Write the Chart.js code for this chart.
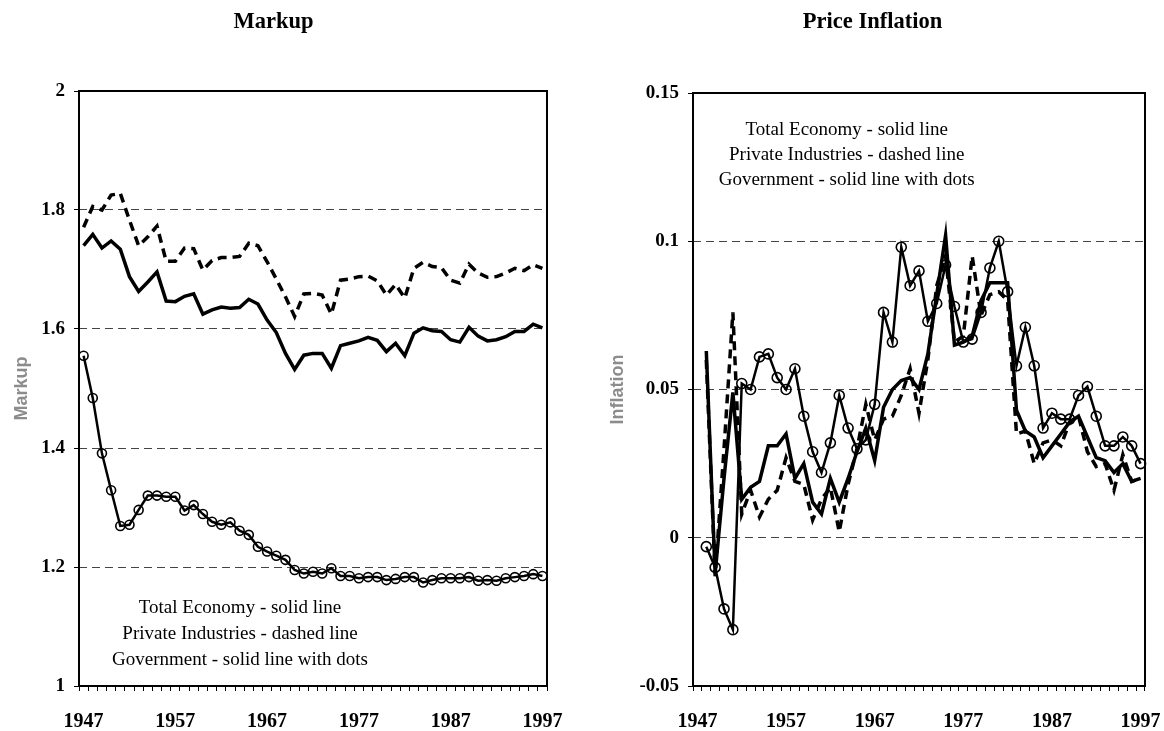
<!DOCTYPE html>
<html><head><meta charset="utf-8">
<script src="https://cdn.jsdelivr.net/npm/chart.js@4.4.1/dist/chart.umd.min.js"></script>
<style>
html,body{margin:0;padding:0;background:#fff;overflow:hidden;}
#c1{position:absolute;left:0;top:0;}
#c2{position:absolute;left:600px;top:0;}
</style>
</head><body>
<canvas id="c1" width="575" height="731"></canvas>
<canvas id="c2" width="564" height="731"></canvas>
<script>
const years = ['1947','1948','1949','1950','1951','1952','1953','1954','1955','1956',
  '1957','1958','1959','1960','1961','1962','1963','1964','1965','1966',
  '1967','1968','1969','1970','1971','1972','1973','1974','1975','1976',
  '1977','1978','1979','1980','1981','1982','1983','1984','1985','1986',
  '1987','1988','1989','1990','1991','1992','1993','1994','1995','1996','1997'];
const yearTickLabels = ['1947','1957','1967','1977','1987','1997'];

const markupTotal = [1.740,1.759,1.736,1.748,1.734,1.688,1.663,1.679,1.696,1.647,
  1.646,1.655,1.659,1.625,1.632,1.637,1.635,1.636,1.650,1.642,
  1.615,1.594,1.559,1.532,1.556,1.559,1.559,1.534,1.572,1.576,
  1.580,1.586,1.581,1.562,1.576,1.555,1.593,1.602,1.597,1.596,
  1.582,1.578,1.603,1.588,1.580,1.582,1.587,1.596,1.596,1.608,1.602];
const markupPrivate = [1.771,1.806,1.800,1.825,1.828,1.783,1.740,1.755,1.773,1.714,
  1.714,1.736,1.735,1.699,1.715,1.720,1.720,1.722,1.744,1.740,
  1.713,1.684,1.654,1.621,1.659,1.660,1.657,1.625,1.682,1.684,
  1.688,1.689,1.681,1.657,1.675,1.652,1.702,1.712,1.705,1.703,
  1.682,1.677,1.709,1.694,1.687,1.688,1.694,1.702,1.698,1.708,1.702];
const markupGov = [1.555,1.484,1.391,1.329,1.269,1.271,1.296,1.320,1.320,1.318,
  1.318,1.295,1.304,1.289,1.276,1.271,1.275,1.261,1.254,1.234,
  1.226,1.219,1.212,1.195,1.189,1.192,1.189,1.198,1.185,1.185,
  1.181,1.183,1.183,1.178,1.180,1.183,1.183,1.174,1.178,1.181,
  1.181,1.181,1.183,1.177,1.178,1.177,1.181,1.183,1.185,1.188,1.185];

const inflTotal = [null,0.063,-0.012,0.020,0.049,0.013,0.017,0.019,0.031,0.031,
  0.035,0.020,0.025,0.012,0.008,0.020,0.012,0.020,0.029,0.037,
  0.026,0.044,0.050,0.053,0.054,0.050,0.062,0.082,0.102,0.065,
  0.066,0.068,0.080,0.086,0.086,0.086,0.043,0.036,0.034,0.027,
  0.031,0.035,0.039,0.041,0.034,0.027,0.026,0.022,0.025,0.019,0.020];
const inflPrivate = [null,0.060,-0.013,0.030,0.076,0.008,0.016,0.007,0.013,0.016,
  0.027,0.019,0.018,0.006,0.013,0.017,0.002,0.018,0.030,0.045,
  0.033,0.040,0.041,0.048,0.057,0.042,0.060,0.085,0.095,0.066,
  0.068,0.095,0.075,0.082,0.083,0.080,0.035,0.036,0.025,0.032,
  0.033,0.031,0.039,0.041,0.029,0.024,0.025,0.016,0.028,0.019,0.020];
const inflGov = [null,-0.003,-0.010,-0.024,-0.031,0.052,0.050,0.061,0.062,0.054,
  0.050,0.057,0.041,0.029,0.022,0.032,0.048,0.037,0.030,0.033,
  0.045,0.076,0.066,0.098,0.085,0.090,0.073,0.079,0.092,0.078,
  0.066,0.067,0.076,0.091,0.100,0.083,0.058,0.071,0.058,0.037,
  0.042,0.040,0.040,0.048,0.051,0.041,0.031,0.031,0.034,0.031,0.025];

const markupTicks = [1, 1.2, 1.4, 1.6, 1.8, 2];
const markupTickLabels = ['1','1.2','1.4','1.6','1.8','2'];
const inflTicks = [-0.05, 0, 0.05, 0.1, 0.15];
const inflTickLabels = ['-0.05','0','0.05','0.1','0.15'];
const noteLines = ['Total Economy - solid line','Private Industries - dashed line','Government - solid line with dots'];

const boxPlugin = {
  id: 'box',
  afterDraw(chart) {
    const a = chart.chartArea, ctx = chart.ctx;
    ctx.save();
    ctx.strokeStyle = '#000';
    ctx.lineWidth = 2;
    ctx.setLineDash([]);
    ctx.strokeRect(a.left, a.top, a.right - a.left, a.bottom - a.top);
    ctx.restore();
  }
};
const notesPlugin = {
  id: 'notes',
  afterDatasetsDraw(chart, args, opts) {
    const a = chart.chartArea, ctx = chart.ctx;
    ctx.save();
    ctx.font = '19px "Liberation Serif"';
    ctx.fillStyle = '#000';
    ctx.textAlign = 'center';
    ctx.textBaseline = 'middle';
    const x = a.left + opts.fx * (a.right - a.left);
    opts.lines.forEach((t, i) => {
      const y = opts.fromBottom ? a.bottom - opts.offsets[i] : a.top + opts.offsets[i];
      ctx.fillText(t, x, y);
    });
    ctx.restore();
  }
};

function build(canvasId, cfg) {
  return new Chart(document.getElementById(canvasId), {
    type: 'line',
    data: {
      labels: years,
      datasets: [
        { label: 'Total Economy', data: cfg.total, borderColor: '#000', borderWidth: 3.5,
          pointRadius: 0, tension: 0, fill: false },
        { label: 'Private Industries', data: cfg.priv, borderColor: '#000', borderWidth: 3.5,
          borderDash: [9, 6], pointRadius: 0, tension: 0, fill: false },
        { label: 'Government', data: cfg.gov, borderColor: '#000', borderWidth: 2.5,
          pointRadius: cfg.pr, pointBorderWidth: 1.6, pointBorderColor: '#000',
          pointBackgroundColor: 'rgba(0,0,0,0)', pointStyle: 'circle', tension: 0, fill: false }
      ]
    },
    options: {
      responsive: false,
      animation: false,
      devicePixelRatio: 1,
      layout: { padding: { left: 0, right: cfg.padRight, top: 0, bottom: 0 } },
      plugins: {
        legend: { display: false },
        tooltip: { enabled: false },
        title: {
          display: true, text: cfg.title, color: '#000',
          font: { family: 'Liberation Serif', size: 22.5, weight: 'bold' },
          padding: { top: 9, bottom: cfg.titlePadBottom }
        },
        notes: { lines: noteLines, fx: cfg.noteFx, offsets: cfg.noteOffsets, fromBottom: cfg.fromBottom }
      },
      scales: {
        x: {
          type: 'category',
          offset: true,
          grid: { offset: true, drawOnChartArea: false, drawTicks: true, tickLength: 5,
                  tickColor: '#000', tickWidth: 1 },
          border: { display: false },
          ticks: {
            autoSkip: false, maxRotation: 0, minRotation: 0, padding: 19, color: '#000',
            font: { family: 'Liberation Serif', size: 20, weight: 'bold' },
            callback: function(v, i) { const y = years[i]; return yearTickLabels.includes(y) ? y : ''; }
          },
          afterFit: s => { s.height = 45; s.paddingLeft = 0; s.paddingRight = 0; }
        },
        y: {
          min: cfg.yMin, max: cfg.yMax,
          afterBuildTicks: s => { s.ticks = cfg.yTicks.map(v => ({ value: v })); },
          grid: { color: '#444', lineWidth: 1, drawTicks: true, tickLength: 5,
                  tickColor: '#000', tickWidth: 1, tickBorderDash: [] },
          border: { display: false, dash: [8, 5] },
          ticks: {
            padding: 9, color: '#000',
            font: { family: 'Liberation Serif', size: 19, weight: 'bold' },
            callback: function(v) {
              const k = cfg.yTicks.findIndex(t => Math.abs(t - v) < 1e-9);
              return k >= 0 ? cfg.yTickLabels[k] : '';
            }
          },
          title: {
            display: true, text: cfg.yTitle, color: '#8c8c8c',
            font: { family: 'Liberation Sans', size: 18, weight: 'bold' },
            padding: { top: cfg.yTitlePad, bottom: 0 }
          },
          afterFit: s => { s.width = cfg.yWidth; }
        }
      }
    },
    plugins: [boxPlugin, notesPlugin]
  });
}

build('c1', {
  title: 'Markup', yTitle: 'Markup', total: markupTotal, priv: markupPrivate, gov: markupGov,
  pr: 4.5, yMin: 1, yMax: 2, yTicks: markupTicks, yTickLabels: markupTickLabels,
  yWidth: 79, yTitlePad: 11, padRight: 28, titlePadBottom: 55,
  noteFx: 0.344, noteOffsets: [78, 52, 26], fromBottom: true
});
build('c2', {
  title: 'Price Inflation', yTitle: 'Inflation', total: inflTotal, priv: inflPrivate, gov: inflGov,
  pr: 5, yMin: -0.05, yMax: 0.15, yTicks: inflTicks, yTickLabels: inflTickLabels,
  yWidth: 93, yTitlePad: 7, padRight: 19, titlePadBottom: 57,
  noteFx: 0.34, noteOffsets: [37, 62, 87], fromBottom: false
});
</script>
</body></html>
